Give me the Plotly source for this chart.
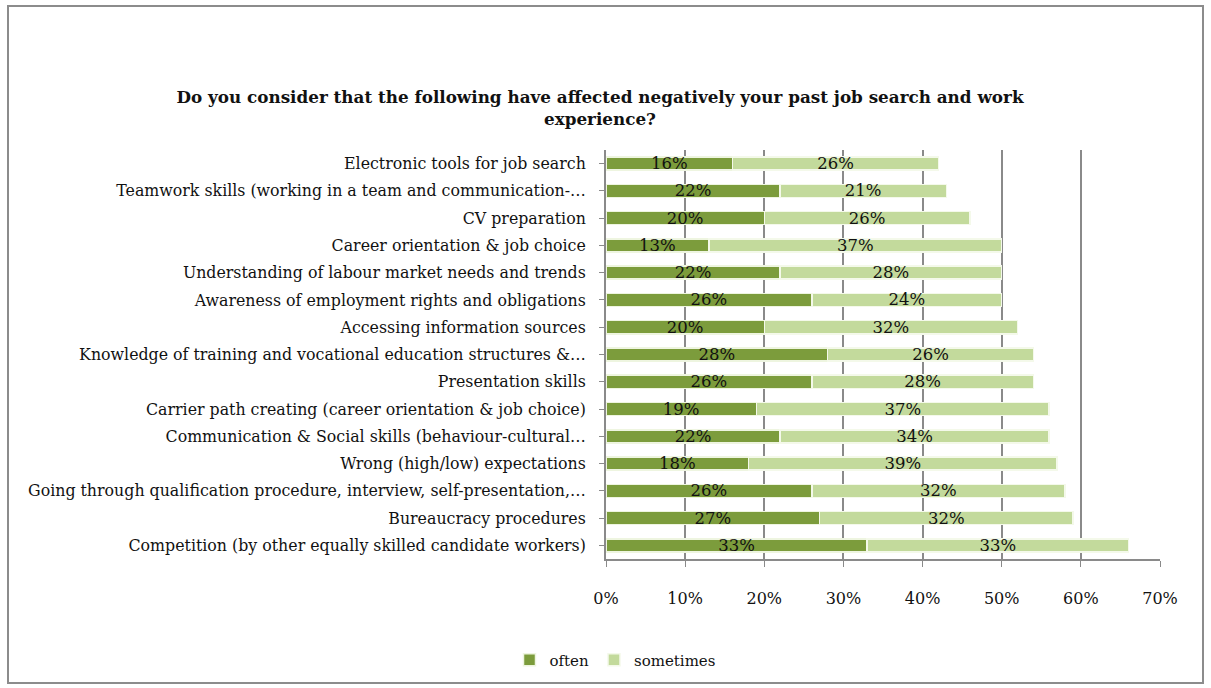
import plotly.graph_objects as go

categories = [
    "Competition (by other equally skilled candidate workers)",
    "Bureaucracy procedures",
    "Going through qualification procedure, interview, self-presentation,…",
    "Wrong (high/low) expectations",
    "Communication & Social skills (behaviour-cultural…",
    "Carrier path creating (career orientation & job choice)",
    "Presentation skills",
    "Knowledge of training and vocational education structures &…",
    "Accessing information sources",
    "Awareness of employment rights and obligations",
    "Understanding of labour market needs and trends",
    "Career orientation & job choice",
    "CV preparation",
    "Teamwork skills (working in a team and communication-…",
    "Electronic tools for job search",
]
often = [33, 27, 26, 18, 22, 19, 26, 28, 20, 26, 22, 13, 20, 22, 16]
sometimes = [33, 32, 32, 39, 34, 37, 28, 26, 32, 24, 28, 37, 26, 21, 26]
x_ticks = [0, 10, 20, 30, 40, 50, 60, 70]
x_ticktext = [f"{v}%" for v in x_ticks]

FONT = "DejaVu Serif"
W, H = 1211, 688
L, R, T, B = 606, 1160, 150, 559

fig = go.Figure()
fig.add_trace(go.Bar(
    y=categories, x=often, name="often", orientation="h",
    marker=dict(color="#7c9c3c", line=dict(color="#eef5e0", width=1.5)),
    text=[f"{v}%" for v in often], textposition="inside",
    insidetextanchor="middle", textangle=0, constraintext="none",
    textfont=dict(family=FONT, size=16.5, color="#111111"),
))
fig.add_trace(go.Bar(
    y=categories, x=sometimes, name="sometimes", orientation="h",
    marker=dict(color="#c3da9c", line=dict(color="#f4f9ea", width=1.5)),
    text=[f"{v}%" for v in sometimes], textposition="inside",
    insidetextanchor="middle", textangle=0, constraintext="none",
    textfont=dict(family=FONT, size=16.5, color="#111111"),
))

pw, ph = R - L, B - T
fig.add_shape(type="rect", xref="paper", yref="paper",
              x0=(8 - L) / pw, x1=(1203 - L) / pw,
              y0=(B - 683) / ph, y1=(B - 6) / ph,
              line=dict(color="#8c8c8c", width=2), fillcolor="rgba(0,0,0,0)",
              layer="below")

fig.update_layout(
    width=W, height=H,
    margin=dict(l=L, r=W - R, t=T, b=H - B, pad=0, autoexpand=False),
    barmode="stack", bargap=0.52,
    paper_bgcolor="white", plot_bgcolor="white",
    font=dict(family=FONT, size=15, color="#111111"),
    title=dict(
        text="<b>Do you consider that the following have affected negatively your past job search and work<br>experience?</b>",
        x=600 / W, xanchor="center", y=1 - 103 / H, yanchor="top",
        font=dict(family=FONT, size=16.8, color="#111111"),
    ),
    xaxis=dict(
        range=[0, 70], tickvals=x_ticks, ticktext=x_ticktext,
        showgrid=True, gridcolor="#8a8a8a", gridwidth=2,
        showline=True, linecolor="#8a8a8a", linewidth=2,
        ticks="outside", tickcolor="#8a8a8a", ticklen=6,
        ticklabelstandoff=18, zeroline=False, automargin=False,
        tickfont=dict(family=FONT, size=16),
    ),
    yaxis=dict(
        showline=True, linecolor="#8a8a8a", linewidth=2,
        ticks="outside", tickcolor="#8a8a8a", ticklen=5,
        ticklabelstandoff=10, automargin=False,
        tickfont=dict(family=FONT, size=15.8),
        range=[-0.5, 14.5],
    ),
    legend=dict(
        orientation="h", x=(615 - L) / pw, xanchor="center",
        y=(B - 660) / ph, yanchor="middle",
        font=dict(family=FONT, size=15), itemwidth=30,
        traceorder="normal",
    ),
    showlegend=True,
)

fig.write_html("out.html")
